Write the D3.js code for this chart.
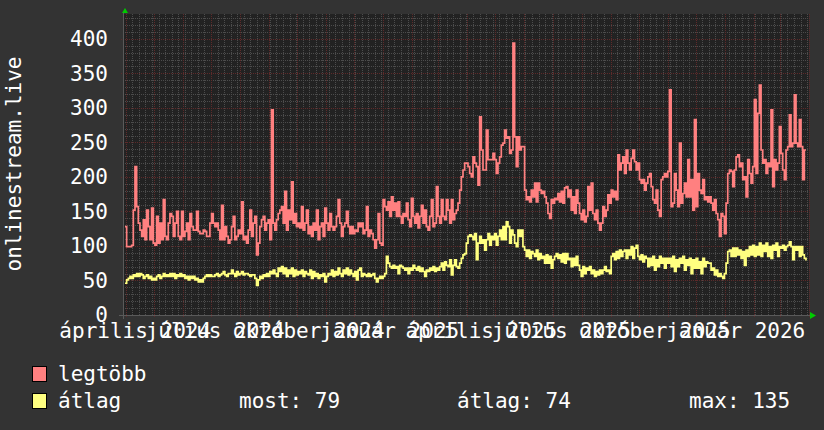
<!DOCTYPE html>
<html>
<head>
<meta charset="utf-8">
<script src="https://cdn.jsdelivr.net/npm/d3@7"></script>
<style>
  body { margin: 0; background: #333333; }
  svg text { font-family: "DejaVu Sans Mono", monospace; font-size: 21px; fill: #ffffff; }
</style>
</head>
<body>
<script>
// samples, one every 42.7 hours starting 2024-03-31 03:00
var firstSample = new Date(2024, 2, 31, 3);
var sampleHours = 42.7;

// legtöbb (max) per sample
var maxValues = [
  128,99,99,99,101,152,215,157,133,123, 114,138,109,152,128,109,155,104,101,143,
  104,133,109,167,114,109,133,147,143,114, 133,150,114,109,150,114,121,133,109,147,
  128,123,123,150,121,118,118,123,121,114, 114,133,147,133,128,133,123,109,159,109,
  128,114,104,109,128,143,109,114,123,118, 164,109,114,104,123,152,114,133,143,87,
  104,128,138,143,123,133,138,109,297,133, 123,138,147,152,157,133,179,123,152,138,
  193,133,147,128,133,126,157,123,133,152, 118,128,114,133,123,152,109,128,133,114,
  155,133,123,147,128,123,128,143,167,133, 114,128,133,150,128,118,128,118,123,121,
  133,128,133,118,123,157,114,123,118,109, 97,109,147,104,101,167,157,152,164,143,
  171,152,162,143,164,143,133,147,143,162, 138,128,169,143,133,147,126,143,159,133,
  152,128,123,143,167,128,133,186,143,133, 167,143,138,167,152,133,167,138,147,152,
  162,181,200,210,220,220,215,205,
  200,229,220,215,188,287,239,210,210,268, 225,225,225,234,225,205,220,229,246,249,
  268,256,258,234,239,394,258,215,258,239, 244,244,181,167,171,164,181,171,191,164,
  191,181,176,179,171,162,147,140,167,162, 169,167,176,164,179,162,184,186,171,181,
  152,171,147,181,162,147,138,152,135,143, 186,152,191,147,138,152,133,123,133,157,
  143,152,174,162,181,171,179,167,232,210, 220,229,205,239,220,210,227,239,222,210,
  220,196,191,196,181,191,200,205,186,167, 162,181,152,143,196,200,205,200,208,326,
  157,162,205,181,157,249,162,176,191,171, 225,171,196,152,283,157,205,181,176,196,
  167,171,164,171,162,152,167,147,138,114, 147,143,118,162,205,210,208,186,210,229,
  232,215,220,196,200,171,225,205,191,215, 312,205,292,333,239,220,225,205,220,215,
  297,186,225,210,220,273,234,210,196,239, 244,290,244,249,319,249,244,283,244,196,
  239,239
];

// átlag (average) per sample
var avgValues = [
  46,51,53,56,53,58,56,60,56,60, 58,53,56,58,53,56,51,53,51,56,
  58,53,56,60,56,58,56,60,56,60, 53,58,56,60,56,58,53,56,51,56,
  53,56,51,53,48,51,48,53,56,58, 56,58,56,56,58,60,56,58,60,63,
  58,56,60,60,65,60,56,63,58,60, 63,58,60,60,58,56,58,58,53,43,
  51,56,53,58,56,60,56,63,60,65, 60,56,68,63,70,60,68,56,65,60,
  68,56,65,58,63,60,65,56,63,60, 58,65,53,63,56,60,53,58,56,60,
  48,56,60,58,65,56,63,58,68,60, 56,65,60,68,58,65,60,56,63,51,
  65,68,56,60,58,56,60,56,58,60, 53,48,53,56,53,56,60,85,75,70,
  68,72,68,70,60,72,70,68,65,68, 60,68,65,72,68,65,70,63,68,63,
  56,65,63,68,65,70,63,68,65,70, 75,65,77,72,70,80,58,72,80,70,
  68,75,82,87,89,104,114,116,
  114,109,118,80,104,114,104,109,94,109, 118,101,114,109,118,101,114,123,109,128,
  109,135,128,104,123,116,104,99,123,114, 123,99,94,85,94,82,92,89,85,94,
  80,89,82,85,75,87,75,85,68,80, 85,89,82,87,77,89,75,89,80,82,
  70,82,72,85,72,65,56,70,60,68, 65,70,60,65,56,63,58,65,60,65,
  70,63,65,60,85,89,80,92,82,94, 85,92,94,82,94,87,99,82,97,101,
  85,80,87,77,85,82,70,82,72,85, 65,80,70,85,75,82,68,82,75,82,
  70,85,63,80,70,82,75,85,65,80, 72,82,60,80,68,82,68,77,60,82,
  70,77,75,75,65,68,58,65,56,60, 56,53,60,75,92,94,85,97,85,97,
  87,94,82,92,72,94,85,99,87,101, 85,99,87,104,85,101,92,104,85,99,
  82,101,94,104,85,99,97,101,94,99, 101,106,99,80,99,94,99,85,99,87,
  82,79
];

var yTicks = [0, 50, 100, 150, 200, 250, 300, 350, 400];
var xLabelMonths = [new Date(2024, 3, 1), new Date(2024, 6, 1), new Date(2024, 9, 1), new Date(2025, 0, 1),
                    new Date(2025, 3, 1), new Date(2025, 6, 1), new Date(2025, 9, 1), new Date(2026, 0, 1)];
var xLabels = ["április 2024", "július 2024", "október 2024", "január 2025",
               "április 2025", "július 2025", "október 2025", "január 2026"];
var yTitle = "onlinestream.live";

var seriesNames = ["legtöbb", "átlag"];
var seriesColors = ["#ff8080", "#ffff80"];
var statNames = ["most", "átlag", "max"];
var statValues = [79, 74, 135];

// layout
var width = 824, height = 430;
var plotLeft = 123, plotRight = 809, plotTop = 14, plotBottom = 315;
var minorColor = "#4c4c4c", majorColor = "#5e2a2a";

var svg = d3.select("body").append("svg")
  .attr("width", width)
  .attr("height", height);

svg.append("rect").attr("width", width).attr("height", height).attr("fill", "#333333");
svg.append("rect")
  .attr("x", plotLeft).attr("y", plotTop)
  .attr("width", plotRight - plotLeft).attr("height", plotBottom - plotTop)
  .attr("fill", "#222222");

var x = d3.scaleTime()
  .domain([new Date(2024, 2, 29), new Date(2026, 3, 1)])
  .range([plotLeft, plotRight]);

// rrdtool puts the quarter labels a bit wider apart than the grid, left edge first
var xLabelPos = d3.scaleTime()
  .domain(x.domain())
  .range([56, 751]);

var y = d3.scaleLinear()
  .domain([0, 436])
  .range([plotBottom, plotTop]);

function sampleDate(i) {
  return d3.timeMinute.offset(firstSample, Math.round(i * sampleHours * 60));
}

function px(v) { return Math.round(v) + 0.5; }

// grid, dotted like rrdtool
var grid = svg.append("g")
  .attr("shape-rendering", "crispEdges")
  .attr("stroke-dasharray", "1,1");

grid.selectAll(".vminor")
  .data(x.ticks(d3.timeMonday.every(1)))
  .enter().append("line")
  .attr("x1", function(d) { return px(x(d)); })
  .attr("x2", function(d) { return px(x(d)); })
  .attr("y1", plotTop).attr("y2", plotBottom)
  .attr("stroke", minorColor);

grid.selectAll(".hminor")
  .data(d3.range(10, 436, 10))
  .enter().append("line")
  .attr("x1", plotLeft).attr("x2", plotRight)
  .attr("y1", function(d) { return px(y(d)); })
  .attr("y2", function(d) { return px(y(d)); })
  .attr("stroke", minorColor);

grid.selectAll(".vmajor")
  .data(x.ticks(d3.timeMonth.every(1)))
  .enter().append("line")
  .attr("x1", function(d) { return px(x(d)); })
  .attr("x2", function(d) { return px(x(d)); })
  .attr("y1", plotTop).attr("y2", plotBottom + 2)
  .attr("stroke", majorColor);

grid.selectAll(".hmajor")
  .data(yTicks.slice(1))
  .enter().append("line")
  .attr("x1", plotLeft - 2).attr("x2", plotRight)
  .attr("y1", function(d) { return px(y(d)); })
  .attr("y2", function(d) { return px(y(d)); })
  .attr("stroke", majorColor);

// series lines
var line = d3.line()
  .x(function(d, i) { return x(sampleDate(i)); })
  .y(function(d) { return y(d); })
  .curve(d3.curveStepAfter);

[maxValues, avgValues].forEach(function(values, s) {
  svg.append("path")
    .datum(values)
    .attr("d", line)
    .attr("fill", "none")
    .attr("stroke", seriesColors[s])
    .attr("stroke-width", 1.7);
});

// axis lines and arrows
svg.append("line")
  .attr("x1", plotLeft - 4).attr("x2", plotRight + 2)
  .attr("y1", plotBottom + 0.5).attr("y2", plotBottom + 0.5)
  .attr("stroke", "#5a5a5a");
svg.append("line")
  .attr("x1", plotLeft + 0.5).attr("x2", plotLeft + 0.5)
  .attr("y1", plotBottom + 4).attr("y2", plotTop - 2)
  .attr("stroke", "#5a5a5a");
svg.append("path")
  .attr("d", "M" + (plotLeft - 1) + "," + (plotTop - 1) + "L" + (plotLeft + 5) + "," + (plotTop - 1) +
             "L" + (plotLeft + 2) + "," + (plotTop - 6) + "Z")
  .attr("fill", "#00cc00");
svg.append("path")
  .attr("d", "M" + (plotRight + 1) + "," + (plotBottom - 3) + "L" + (plotRight + 1) + "," + (plotBottom + 4) +
             "L" + (plotRight + 7) + "," + (plotBottom + 0.5) + "Z")
  .attr("fill", "#00cc00");

// y axis labels
var yAxis = svg.append("g")
  .attr("transform", "translate(" + plotLeft + ",0)")
  .call(d3.axisLeft(y).tickValues(yTicks).tickSize(0).tickPadding(15));
yAxis.select(".domain").remove();
yAxis.selectAll("text").attr("fill", "#ffffff").style("font-size", "21px")
  .style("font-family", "'DejaVu Sans Mono', monospace");

// x axis labels, they overlap in the original too
var xAxis = svg.append("g")
  .attr("transform", "translate(0," + plotBottom + ")")
  .call(d3.axisBottom(xLabelPos)
    .tickValues(xLabelMonths)
    .tickFormat(function(d, i) { return xLabels[i]; })
    .tickSize(0).tickPadding(8));
xAxis.select(".domain").remove();
xAxis.selectAll("text").attr("fill", "#ffffff").attr("text-anchor", "start")
  .style("font-size", "21px")
  .style("font-family", "'DejaVu Sans Mono', monospace");

// y title
svg.append("text")
  .attr("transform", "translate(21," + 164 + ")rotate(-90)")
  .attr("text-anchor", "middle")
  .text(yTitle);

// legend
seriesNames.forEach(function(name, i) {
  var rowY = 366 + i * 27;
  svg.append("rect")
    .attr("x", 32.5).attr("y", rowY + 0.5)
    .attr("width", 14).attr("height", 15)
    .attr("fill", seriesColors[i])
    .attr("stroke", "#000000");
  svg.append("text")
    .attr("x", 58).attr("y", rowY + 15)
    .text(name);
});

var statX = [239, 457, 689];
statNames.forEach(function(name, i) {
  svg.append("text")
    .attr("x", statX[i]).attr("y", 408)
    .text(name + ": " + statValues[i]);
});
</script>
</body>
</html>
